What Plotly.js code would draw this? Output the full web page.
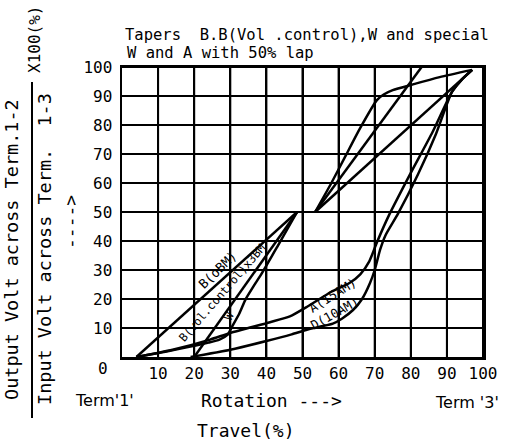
<!DOCTYPE html>
<html>
<head>
<meta charset="utf-8">
<script src="https://cdn.plot.ly/plotly-3.0.1.min.js"></script>
<style>html,body{margin:0;padding:0;background:#fff;}#chart{width:515px;height:441px;}</style>
</head>
<body>
<div id="chart"></div>
<script>
// ---- data (travel % vs output %) ----
const tickVals = [10, 20, 30, 40, 50, 60, 70, 80, 90, 100];
const tickText = ['10', '20', '30', '40', '50', '60', '70', '80', '90', '100'];

// B (0BM) linear with 50% tap
const bX = [4, 48.5, null, 53.5, 97];
const bY = [0, 50, null, 50, 99];

// B (vol. control) x3BM
const bvX = [20, 48.5, null, 53.5, 83];
const bvY = [0, 50, null, 50, 100];

// W with 50% tap
const wX = [4, 12, 18.6, 24, 27, 29.2, 30.5, 32.5, 34.2, 36.5, 38.8, 43, 48.5, null, 53.5, 58, 62, 66, 70.6, 72.5, 75, 80.6, 88, 97];
const wY = [0, 1.8, 3.5, 5, 6, 7.6, 10.5, 15, 19.8, 24.5, 29, 38, 50, null, 50, 60, 69.5, 79, 88.6, 90.5, 92, 94, 96.5, 99];

// A (15AM)
const aX = [4, 14, 24.4, 30, 41, 46.5, 51.5, 58, 63, 66, 68.5, 70.6, 74, 80, 86, 91.4, 94, 97];
const aY = [0, 2.5, 6, 8.3, 12, 14, 17.5, 22.5, 25.5, 28.5, 33, 39.5, 49, 63.5, 77.5, 91.4, 95.5, 99];

// D (10AM)
const dX = [19, 30, 40, 47, 51, 55, 58.4, 61, 64, 66.5, 68.7, 70, 71.5, 73, 76.5, 82, 87, 91.4, 94, 97];
const dY = [0, 2.5, 5.5, 7.8, 9.3, 10.5, 11.5, 13.3, 16.2, 20, 25.5, 30, 37, 42, 49.5, 63, 77, 91.4, 95.5, 99];

const curveLabels = ['B(oBM)', 'B(vol.control)x3BM', 'W', 'A(15AM)', 'D(10AM)'];

// ---- layout helpers (pixel -> paper) ----
const L = 122, R = 483, T = 67, B = 357;
const PX = p => (p - L) / (R - L);
const PY = p => (B - p) / (B - T);

const mono = 'DejaVu Sans Mono, monospace';
const sans = 'DejaVu Sans, sans-serif';
const line = {color: '#000', width: 2.5};
const curved = {color: '#000', width: 2.5, shape: 'spline', smoothing: 0.6};

const traces = [
  {x: bX, y: bY, name: curveLabels[0]},
  {x: bvX, y: bvY, name: curveLabels[1]},
  {x: wX, y: wY, name: curveLabels[2], line: curved},
  {x: aX, y: aY, name: curveLabels[3], line: curved},
  {x: dX, y: dY, name: curveLabels[4], line: curved}
].map(t => Object.assign({type: 'scatter', mode: 'lines', line: line, connectgaps: false, hoverinfo: 'skip'}, t));

function ann(text, px, py, size, angle, family, extra) {
  return Object.assign({text: text, xref: 'paper', yref: 'paper', x: PX(px), y: PY(py),
    showarrow: false, textangle: angle || 0, xanchor: 'center', yanchor: 'middle',
    font: {family: family || mono, size: size, color: '#000'}}, extra || {});
}

const annotations = [
  ann('W and A with 50% lap', 125, 53, 15.5, 0, mono, {xanchor: 'left'}),
  ann('Output Volt across Term.1-2', 11, 250, 18.5, -90),
  ann('Input Volt across Term.  1-3', 45, 249, 18.5, -90),
  ann('---->', 70, 222, 18, -90),
  ann('X100(%)', 35, 40, 16, -90),
  ann('0', 103, 368, 16),
  ann("Term'1'", 104, 400, 16, 0, sans),
  ann('Rotation --->', 271, 400, 18),
  ann("Term '3'", 467, 402, 16, 0, sans),
  ann('Travel(%)', 246, 430, 18),
  ann(curveLabels[0], 217, 270, 13, -44),
  ann(curveLabels[1], 222, 293, 11.5, -49),
  ann(curveLabels[2], 229, 316, 12, -65),
  ann(curveLabels[3], 332, 295, 12.5, -32),
  ann(curveLabels[4], 334, 313, 12.5, -29)
];

// grid lines built from the tick values (both refs on data axes)
const gridShapes = [];
tickVals.forEach(v => {
  gridShapes.push({type: 'line', layer: 'above', xref: 'x', yref: 'y', x0: v, x1: v, y0: 0, y1: 100, line: {color: '#000', width: 2}});
  gridShapes.push({type: 'line', layer: 'above', xref: 'x', yref: 'y', x0: 0, x1: 100, y0: v, y1: v, line: {color: '#000', width: 2}});
});

const axisCommon = {
  range: [0, 100], tickmode: 'array', tickvals: tickVals, ticktext: tickText, ticks: '',
  showgrid: true, gridcolor: '#000', gridwidth: 2, zeroline: false,
  showline: true, mirror: true, linecolor: '#000', linewidth: 2.5,
  tickfont: {family: mono, size: 16, color: '#000'}, fixedrange: true
};

const layout = {
  width: 515, height: 441,
  margin: {l: L, r: 515 - R, t: T, b: 441 - B, pad: 0},
  paper_bgcolor: '#fff', plot_bgcolor: 'rgba(0,0,0,0)',
  showlegend: false,
  title: {text: 'Tapers  B.B(Vol .control),W and special', xref: 'paper', x: PX(125), xanchor: 'left',
          yref: 'container', y: 1 - 35 / 441, yanchor: 'middle',
          font: {family: mono, size: 15.5, color: '#000'}},
  xaxis: Object.assign({}, axisCommon),
  yaxis: Object.assign({}, axisCommon, {ticklabelstandoff: 4}),
  annotations: annotations,
  shapes: gridShapes.concat([{type: 'line', xref: 'paper', yref: 'paper', x0: PX(32), x1: PX(32), y0: PY(82), y1: PY(418),
            line: {color: '#000', width: 2}}])
};

Plotly.newPlot('chart', traces, layout, {staticPlot: true, displayModeBar: false});
</script>
</body>
</html>
